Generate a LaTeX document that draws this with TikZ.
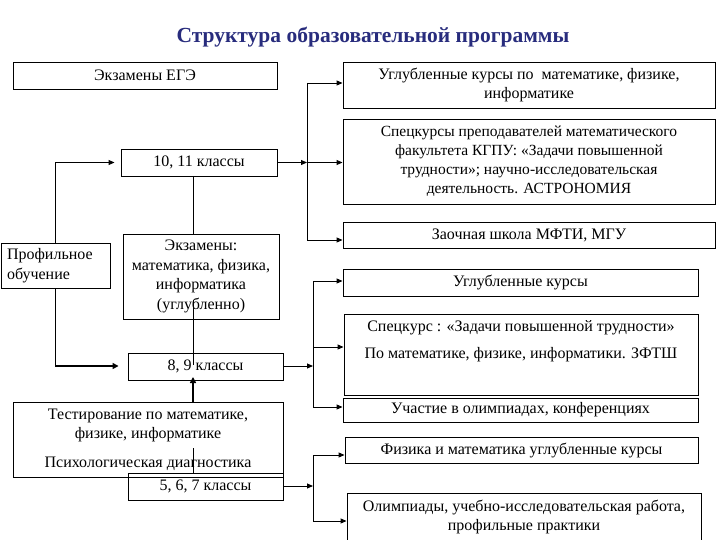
\documentclass[tikz,border=0pt]{standalone}
\usepackage{fontspec}
\setmainfont{Liberation Serif}
\usetikzlibrary{arrows.meta}
\definecolor{titleblue}{RGB}{40,44,125}
\tikzset{
  box/.style={draw, line width=0.9pt, inner sep=0pt, align=center, font=\fontsize{16}{19.5}\selectfont},
  txt/.style={inner sep=0pt, align=center, font=\fontsize{16}{19.5}\selectfont},
  conn/.style={line width=0.9pt},
  arr/.style={line width=0.9pt, -{Triangle[length=6pt,width=5pt]}},
  thickarr/.style={line width=1.8pt, -{Triangle[length=6pt,width=6pt]}},
}
\begin{document}
\begin{tikzpicture}[x=1pt,y=-1pt]
\clip (0,0) rectangle (720,540);
\fill[white] (0,0) rectangle (720,540);
% title
\node[font=\fontsize{21.5}{24}\selectfont\bfseries, text=titleblue, inner sep=0pt] (title) at (373,37.5) {Структура образовательной программы};
% left boxes
\node[box, minimum width=264pt, minimum height=27pt] (ege) at (145,75.5) {Экзамены ЕГЭ};
\node[box, minimum width=156pt, minimum height=27pt] (k1011) at (199,162.5) {10, 11 классы};
\node[box, anchor=north west, minimum width=107pt, minimum height=45pt, text width=97pt, inner xsep=6pt, align=left, font=\fontsize{16}{20}\selectfont] (prof) at (0.6,243) {Профильное\\обучение};
\node[box, minimum width=156pt, minimum height=85pt] (exam) at (201,276.5) {Экзамены:\\математика, физика,\\информатика\\(углубленно)};
\node[box, minimum width=155pt, minimum height=27pt] (k89) at (205.5,366.5) {8, 9 классы};
\node[box, minimum width=270pt, minimum height=75pt] (test) at (148,439.5) {Тестирование по математике,\\физике, информатике\\[9pt]Психологическая диагностика};
\node[box, minimum width=155pt, minimum height=27pt] (k567) at (205.5,486.5) {5, 6, 7 классы};
% right boxes
\node[box, minimum width=372pt, minimum height=46pt] (r1) at (529,85) {Углубленные курсы по \ математике, физике,\\информатике};
\node[box, minimum width=372pt, minimum height=85pt, font=\fontsize{15.5}{19}\selectfont] (r2) at (529,161.5) {Спецкурсы преподавателей математического\\факультета КГПУ: «Задачи повышенной\\трудности»; научно-исследовательская\\деятельность. АСТРОНОМИЯ};
\node[box, minimum width=372pt, minimum height=26pt] (r3) at (529,235) {Заочная школа МФТИ, МГУ};
\node[box, minimum width=355pt, minimum height=27pt] (r4) at (520.5,282.5) {Углубленные курсы};
\node[box, minimum width=354pt, minimum height=81pt] (r5) at (521,354.5) {};
\node[txt] (r5t) at (521,341.5) {Спецкурс : «Задачи повышенной трудности»\\[7.5pt]По математике, физике, информатики. ЗФТШ};
\node[box, minimum width=355pt, minimum height=24pt] (r6) at (520.5,410) {Участие в олимпиадах, конференциях};
\node[box, minimum width=353pt, minimum height=26pt] (r7) at (521.5,450) {Физика и математика углубленные курсы};
\node[box, minimum width=354pt, minimum height=48pt, font=\fontsize{16}{18.5}\selectfont] (r8) at (524,517) {Олимпиады, учебно-исследовательская работа,\\профильные практики};
% coordinates
\coordinate (pa) at (55,162.5);
\coordinate (pb) at (55,366);
\coordinate (v1) at (307,162.5);
\coordinate (v1t) at (307,83);
\coordinate (v1b) at (307,240);
\coordinate (v2) at (313,366);
\coordinate (v2t) at (313,281);
\coordinate (v2m) at (313,347);
\coordinate (v2b) at (313,407);
\coordinate (v3) at (313,486);
\coordinate (v3t) at (313,455);
\coordinate (v3b) at (313,521);
\coordinate (ka) at (193,176);
\coordinate (kb) at (193,234);
\coordinate (kc) at (193,300);
\coordinate (kd) at (193,365);
\coordinate (ta) at (193,402);
\coordinate (tb) at (193,377);
\coordinate (sa) at (193,473);
\coordinate (sb) at (193,448);
% connectors: profile
\draw[arr, shorten >=6pt] (prof.north -| pa) -- (pa) -- (k1011.west |- pa);
\draw[conn] (prof.south -| pb) -- (pb);
\draw[thickarr, shorten >=9pt] (pb) -- (k89.west |- pb);
% verticals in middle column
\draw[conn] (ka) -- (kb);
\draw[conn] (kc) -- (kd);
\draw[thickarr] (ta) -- (tb);
\draw[conn] (sa) -- (sb);
% 10-11 branch
\draw[arr] (k1011.east |- v1) -- (v1);
\draw[conn] (v1t) -- (v1b);
\draw[arr] (v1t) -- (r1.west |- v1t);
\draw[arr] (v1) -- (r2.west |- v1);
\draw[arr] (v1b) -- (r3.west |- v1b);
% 8-9 branch
\draw[arr] (k89.east |- v2) -- (v2);
\draw[conn] (v2t) -- (v2b);
\draw[arr] (v2t) -- (r4.west |- v2t);
\draw[arr] (v2m) -- (r5.west |- v2m);
\draw[arr] (v2b) -- (r6.west |- v2b);
% 5-7 branch
\draw[arr] (k567.east |- v3) -- (v3);
\draw[conn] (v3t) -- (v3b);
\draw[arr] (v3t) -- (r7.west |- v3t);
\draw[arr] (v3b) -- (r8.west |- v3b);
\end{tikzpicture}
\end{document}
